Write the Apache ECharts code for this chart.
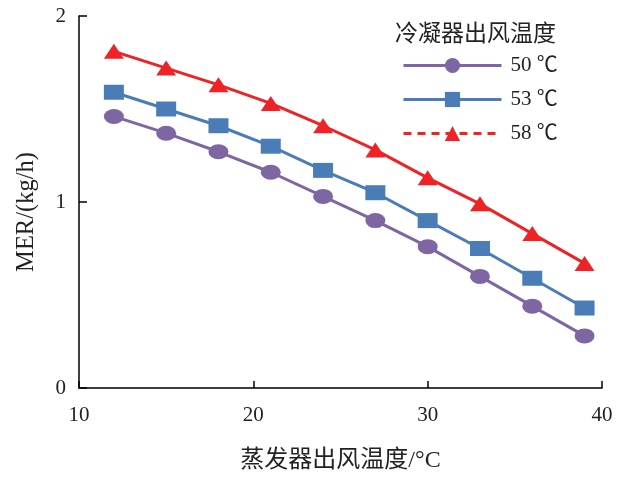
<!DOCTYPE html>
<html>
<head>
<meta charset="utf-8">
<script src="https://cdn.jsdelivr.net/npm/echarts@6/dist/echarts.min.js"></script>
<style>
html, body { margin: 0; padding: 0; background: #fff; }
#chart { width: 634px; height: 478px; }
</style>
</head>
<body>
<div id="chart"></div>
<script>
// Evaporator outlet air temperature (°C)
const evapTemps = [12, 15, 18, 21, 24, 27, 30, 33, 36, 39];
// MER (kg/h) for each condenser outlet air temperature
const mer50 = [1.46, 1.37, 1.27, 1.16, 1.03, 0.90, 0.76, 0.60, 0.44, 0.28];
const mer53 = [1.59, 1.50, 1.41, 1.30, 1.17, 1.05, 0.90, 0.75, 0.59, 0.43];
const mer58 = [1.81, 1.72, 1.63, 1.53, 1.41, 1.28, 1.13, 0.99, 0.83, 0.67];
const seriesNames = ['50 ℃', '53 ℃', '58 ℃'];
const legendTitle = '冷凝器出风温度';
const xName = '蒸发器出风温度/°C';
const yName = 'MER/(kg/h)';

const serif = '"Liberation Serif", "Times New Roman", "Noto Sans CJK SC", serif';
const colors = ['#7E66A3', '#4A7DB8', '#EE2326'];
const symbols = ['circle', 'rect', 'triangle'];

const chart = echarts.init(document.getElementById('chart'));
const pairs = arr => evapTemps.map((x, i) => [x, arr[i]]);

chart.setOption({
  animation: false,
  backgroundColor: '#fff',
  grid: { left: 79, right: 32, top: 16, bottom: 88 },
  graphic: [
    {
      type: 'text', left: 395, top: 23,
      style: { text: legendTitle, font: '23px ' + serif, fill: '#222' }
    },
    {
      type: 'text', x: 27, y: 212, rotation: Math.PI / 2,
      style: { text: yName, font: '24.5px ' + serif, fill: '#222', align: 'center', verticalAlign: 'middle' }
    }
  ],
  legend: {
    orient: 'vertical', left: 402, top: 55, padding: 0,
    itemWidth: 98, itemHeight: 19, itemGap: 13,
    lineStyle: { width: 3 },
    textStyle: { fontFamily: serif, fontSize: 21, color: '#222', lineHeight: 20, padding: [0, 0, 0, 4] },
    data: [
      { name: seriesNames[0] },
      { name: seriesNames[1] },
      { name: seriesNames[2], lineStyle: { type: [8, 6], width: 3 } }
    ]
  },
  xAxis: {
    type: 'value', min: 10, max: 40, interval: 10,
    name: xName, nameLocation: 'middle', nameGap: 61,
    nameTextStyle: { fontFamily: serif, fontSize: 24, color: '#222' },
    axisLine: { lineStyle: { color: '#000', width: 1.5 } },
    axisTick: { inside: true, length: 7, lineStyle: { color: '#000', width: 1.5 } },
    axisLabel: { fontFamily: serif, fontSize: 21, color: '#222', margin: 17 },
    splitLine: { show: false }
  },
  yAxis: {
    type: 'value', min: 0, max: 2, interval: 1,
    axisLine: { show: true, lineStyle: { color: '#000', width: 1.5 } },
    axisTick: { show: true, inside: true, length: 8, lineStyle: { color: '#000', width: 1.5 } },
    axisLabel: { fontFamily: serif, fontSize: 21, color: '#222', margin: 13 },
    splitLine: { show: false }
  },
  series: [mer50, mer53, mer58].map((d, i) => ({
    name: seriesNames[i],
    type: 'line',
    data: pairs(d),
    symbol: symbols[i],
    symbolSize: [20, 15],
    lineStyle: { color: colors[i], width: 3 },
    itemStyle: { color: colors[i] },
    z: 2 + i
  }))
});
</script>
</body>
</html>
